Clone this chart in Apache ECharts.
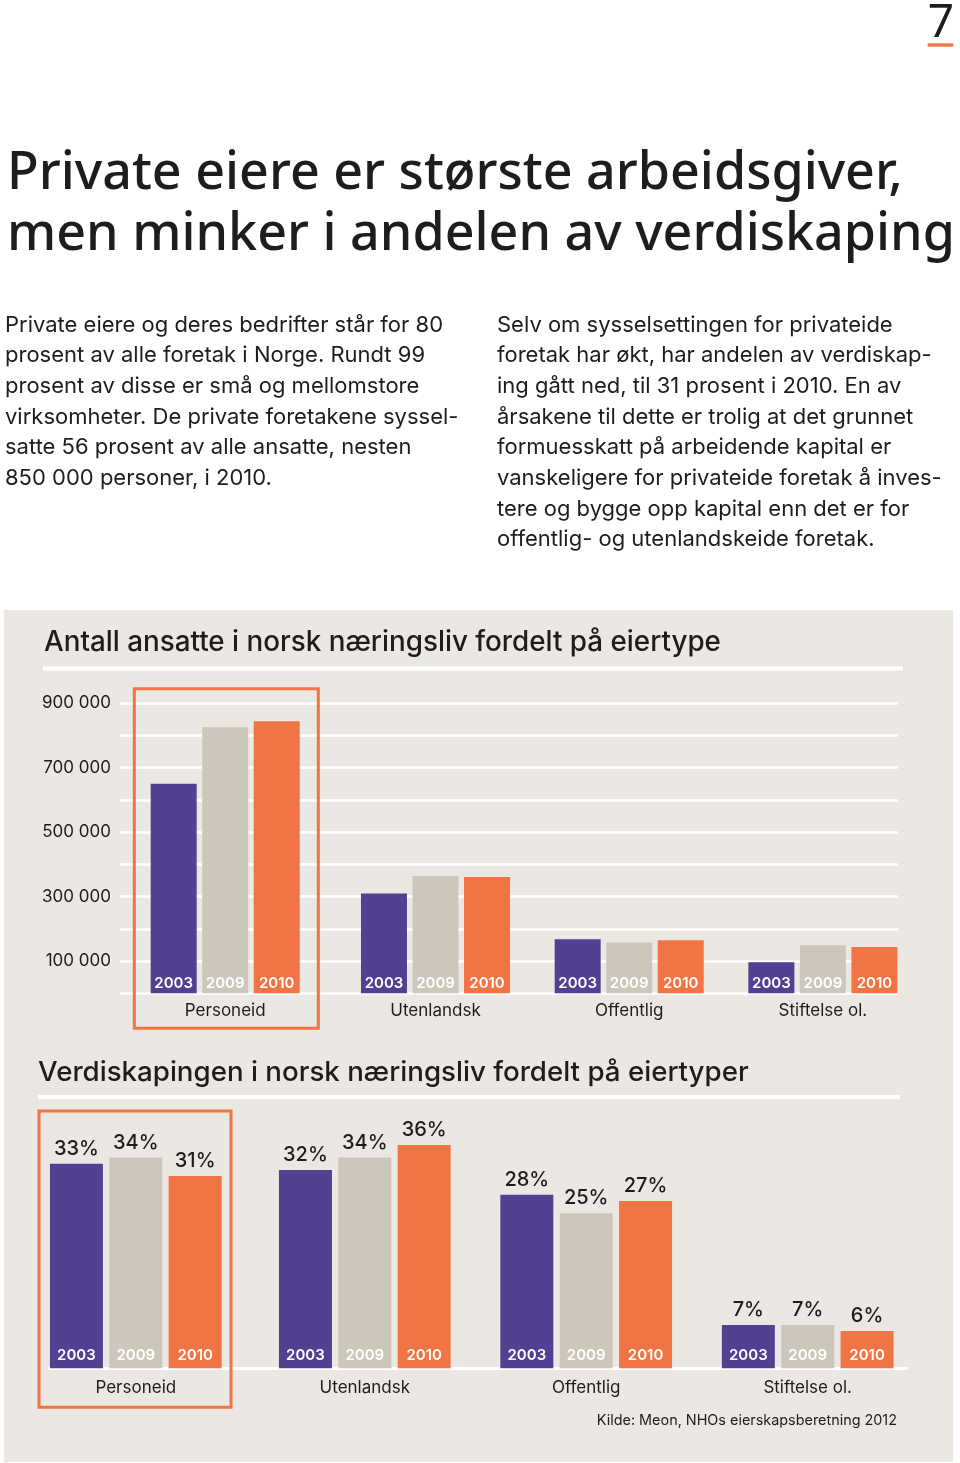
<!DOCTYPE html>
<html><head><meta charset="utf-8">
<script src="https://cdn.jsdelivr.net/npm/echarts@6/dist/echarts.min.js"></script>
<style>html,body{margin:0;padding:0;background:#fff}#c{width:960px;height:1463px}</style>
</head><body><div id="c"></div>
<script>
// ---------- data ----------
const categories = ['Personeid', 'Utenlandsk', 'Offentlig', 'Stiftelse ol.'];
const years = ['2003', '2009', '2010'];
const ansatte2003 = [650000, 310000, 168000, 96000];
const ansatte2009 = [826000, 364000, 158000, 149000];
const ansatte2010 = [844000, 361000, 165000, 144000];
const verdi2003 = [33, 32, 28, 7];
const verdi2009 = [34, 34, 25, 7];
const verdi2010 = [31, 36, 27, 6];
const yTickLabels = ['100 000', '300 000', '500 000', '700 000', '900 000'];

const pageNumber = '7';
const headingLines = ['Private eiere er største arbeidsgiver,', 'men minker i andelen av verdiskaping'];
const leftParagraph = [
  'Private eiere og deres bedrifter står for 80',
  'prosent av alle foretak i Norge. Rundt 99',
  'prosent av disse er små og mellomstore',
  'virksomheter. De private foretakene syssel-',
  'satte 56 prosent av alle ansatte, nesten',
  '850 000 personer, i 2010.'
];
const rightParagraph = [
  'Selv om sysselsettingen for privateide',
  'foretak har økt, har andelen av verdiskap-',
  'ing gått ned, til 31 prosent i 2010. En av',
  'årsakene til dette er trolig at det grunnet',
  'formuesskatt på arbeidende kapital er',
  'vanskeligere for privateide foretak å inves-',
  'tere og bygge opp kapital enn det er for',
  'offentlig- og utenlandskeide foretak.'
];
const title1 = 'Antall ansatte i norsk næringsliv fordelt på eiertype';
const title2 = 'Verdiskapingen i norsk næringsliv fordelt på eiertyper';
const source = 'Kilde: Meon, NHOs eierskapsberetning 2012';

// ---------- style / layout ----------
const FONT = "Inter, 'Noto Sans', sans-serif";
const HFONT = "'Noto Sans', sans-serif";
const INK = '#1d1d1b';
const colors = ['#524092', '#cdc7bb', '#f07444'];
const PANEL = '#ebe8e3';
const ORANGE = '#f07444';
const c1Centers = [225.2, 435.5, 629.2, 822.9];
const c2Centers = [135.8, 364.8, 586.2, 807.7];
const ansatte = [ansatte2003, ansatte2009, ansatte2010];
const verdi = [verdi2003, verdi2009, verdi2010];

const grids = [], xAxes = [], yAxes = [], series = [];
function addGrid(left, top, width, height) { grids.push({ left, top, width, height }); return grids.length - 1; }

// chart 1 gridlines
{
  const gi = addGrid(120, 703.3, 778, 290);
  xAxes.push({ gridIndex: gi, type: 'value', show: false });
  yAxes.push({
    gridIndex: gi, type: 'value', min: 0, max: 900000, interval: 100000,
    axisLine: { show: false }, axisTick: { show: false },
    splitLine: { show: true, lineStyle: { color: '#ffffff', width: 2.5 } },
    axisLabel: {
      margin: 9, fontSize: 17, color: INK, fontFamily: FONT,
      formatter: v => { const s = String(v).replace(/\B(?=(\d{3})+(?!\d))/g, ' '); return yTickLabels.includes(s) ? s : ''; }
    }
  });
}
// chart 1 bars
categories.forEach((cat, g) => {
  const gi = addGrid(c1Centers[g] - 100, 703.3, 200, 290);
  xAxes.push({ gridIndex: gi, type: 'category', data: [cat], axisLine: { show: false }, axisTick: { show: false },
    axisLabel: { margin: 9, fontSize: 17, color: INK, fontFamily: FONT } });
  yAxes.push({ gridIndex: gi, type: 'value', min: 0, max: 900000, show: false, splitLine: { show: false } });
  const xi = xAxes.length - 1, yi = yAxes.length - 1;
  years.forEach((yr, k) => {
    series.push({ type: 'bar', name: yr, xAxisIndex: xi, yAxisIndex: yi, data: [ansatte[k][g]],
      barWidth: 46, barGap: '12%', itemStyle: { color: colors[k] },
      label: { show: true, position: 'insideBottom', distance: 2, formatter: yr, color: '#ffffff', fontSize: 15, fontWeight: 600, fontFamily: FONT } });
  });
});
// chart 2 bars (value labels) + year label layer
categories.forEach((cat, g) => {
  const gi = addGrid(c2Centers[g] - 115, 1120.3, 230, 248);
  xAxes.push({ gridIndex: gi, type: 'category', data: [cat], axisLine: { show: false }, axisTick: { show: false },
    axisLabel: { margin: 11, fontSize: 17, color: INK, fontFamily: FONT } });
  yAxes.push({ gridIndex: gi, type: 'value', min: 0, max: 40, show: false, splitLine: { show: false } });
  let xi = xAxes.length - 1, yi = yAxes.length - 1;
  years.forEach((yr, k) => {
    series.push({ type: 'bar', name: yr, xAxisIndex: xi, yAxisIndex: yi, data: [verdi[k][g]],
      barWidth: 53, barGap: '12%', itemStyle: { color: colors[k] },
      label: { show: true, position: 'top', distance: 5, formatter: '{c}%', color: INK, fontSize: 20, fontWeight: 500, fontFamily: FONT } });
  });
  const gj = addGrid(c2Centers[g] - 115, 1120.3, 230, 248);
  xAxes.push({ gridIndex: gj, type: 'category', data: [cat], show: false });
  yAxes.push({ gridIndex: gj, type: 'value', min: 0, max: 40, show: false, splitLine: { show: false } });
  xi = xAxes.length - 1; yi = yAxes.length - 1;
  years.forEach((yr, k) => {
    series.push({ type: 'bar', name: yr + ' ', xAxisIndex: xi, yAxisIndex: yi, data: [verdi[k][g]], z: 5, silent: true,
      barWidth: 53, barGap: '12%', itemStyle: { color: 'rgba(0,0,0,0)' },
      label: { show: true, position: 'insideBottom', distance: 5, formatter: yr, color: '#ffffff', fontSize: 15, fontWeight: 600, fontFamily: FONT } });
  });
});

function txt(text, x, y, size, opts) {
  return Object.assign({ type: 'text', z: 10, style: Object.assign({ text, x, y, fill: INK, fontSize: size, fontFamily: FONT, verticalAlign: 'middle' }, opts || {}) });
}
const graphic = [
  { type: 'rect', z: -1, shape: { x: 4, y: 610, width: 949, height: 852 }, style: { fill: PANEL } },
  txt(pageNumber, 941, 24, 46, { align: 'center', fontFamily: HFONT }),
  { type: 'rect', z: 10, shape: { x: 927.7, y: 43.3, width: 25.6, height: 3.4 }, style: { fill: ORANGE } },
  txt(headingLines[0], 7, 174, 52, { fontWeight: 500, fontFamily: HFONT }),
  txt(headingLines[1], 7, 235, 52, { fontWeight: 500, fontFamily: HFONT }),
  txt(leftParagraph.join('\n'), 5, 309.6, 22, { verticalAlign: 'top', lineHeight: 30.7 }),
  txt(rightParagraph.join('\n'), 497, 309.6, 22, { verticalAlign: 'top', lineHeight: 30.7 }),
  txt(title1, 44, 643, 27.8, { fontWeight: 500 }),
  { type: 'rect', z: 1, shape: { x: 43, y: 666.3, width: 860, height: 4.3 }, style: { fill: '#ffffff' } },
  txt(title2, 38, 1073, 27.7, { fontWeight: 500 }),
  { type: 'rect', z: 1, shape: { x: 38, y: 1095, width: 862, height: 4.3 }, style: { fill: '#ffffff' } },
  { type: 'rect', z: 1, shape: { x: 48, y: 1367, width: 860, height: 3 }, style: { fill: '#ffffff' } },
  { type: 'rect', z: 10, shape: { x: 134.3, y: 688.7, width: 184, height: 339.6 }, style: { fill: 'none', stroke: ORANGE, lineWidth: 3 } },
  { type: 'rect', z: 10, shape: { x: 39, y: 1111, width: 192, height: 296.3 }, style: { fill: 'none', stroke: ORANGE, lineWidth: 3 } },
  txt(source, 897, 1420.7, 14.4, { align: 'right' })
];

const chart = echarts.init(document.getElementById('c'), null, { renderer: 'canvas' });
chart.setOption({
  backgroundColor: '#ffffff',
  animation: false,
  textStyle: { fontFamily: FONT },
  grid: grids, xAxis: xAxes, yAxis: yAxes, series, graphic
});
</script></body></html>
